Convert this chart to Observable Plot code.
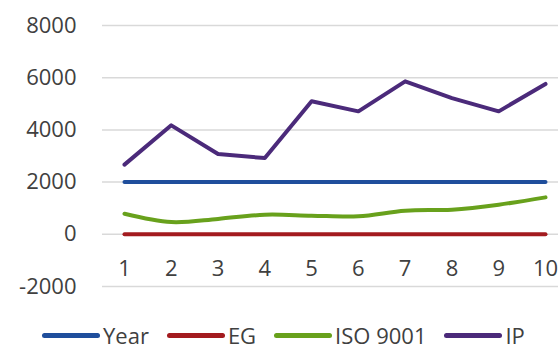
<!DOCTYPE html>
<html>
<head>
<meta charset="utf-8">
<script src="https://cdn.jsdelivr.net/npm/d3@7"></script>
<script src="https://cdn.jsdelivr.net/npm/@observablehq/plot@0.6"></script>
<style>
  html, body { margin: 0; padding: 0; background: #fff; overflow: hidden; }
  #wrap { position: relative; width: 558px; height: 353px; font-family: "Open Sans", sans-serif; }
  #legend { position: absolute; left: 42px; top: 320px; display: flex; align-items: center; gap: 18px; font-size: 22px; color: #404040; line-height: 30px; white-space: nowrap; }
  .item { display: flex; align-items: center; gap: 3px; }
  .sw { width: 58px; height: 5px; border-radius: 3px; display: inline-block; }
</style>
</head>
<body>
<div id="wrap"><div id="chart"></div><div id="legend"></div></div>
<script>
const periods = [1, 2, 3, 4, 5, 6, 7, 8, 9, 10];
const seriesNames = ["Year", "EG", "ISO 9001", "IP"];
const seriesColors = ["#1f4e9c", "#a31b1f", "#68a11c", "#4b2a7a"];
const yearValues = [2000, 2000, 2000, 2000, 2000, 2000, 2000, 2000, 2000, 2000];
const egValues = [0, 0, 0, 0, 0, 0, 0, 0, 0, 0];
const isoValues = [790, 470, 590, 750, 715, 690, 905, 945, 1135, 1415];
const ipValues = [2670, 4175, 3075, 2920, 5095, 4710, 5860, 5220, 4710, 5760];
const yTicks = [-2000, 0, 2000, 4000, 6000, 8000];

const valueSets = [yearValues, egValues, isoValues, ipValues];
const rows = [];
seriesNames.forEach((s, i) => periods.forEach((p, j) => rows.push({series: s, period: p, value: valueSets[i][j]})));

const chart = Plot.plot({
  width: 558,
  height: 300,
  marginLeft: 102,
  marginRight: 0,
  marginTop: 25,
  marginBottom: 14,
  style: {fontFamily: "Open Sans, sans-serif", fontSize: "22px", color: "#404040", background: "#fff"},
  x: {domain: [0.5, 10.5], range: [100.6, 568.4], axis: null},
  y: {domain: [-2000, 8000], axis: null},
  color: {domain: seriesNames, range: seriesColors},
  marks: [
    Plot.ruleY(yTicks, {stroke: "#d9d9d9", strokeWidth: 1.5}),
    Plot.axisY({ticks: yTicks, tickSize: 0, tickPadding: 26, anchor: "left", label: null, fontSize: 22, fill: "#404040", tickFormat: d => String(d).replace("−", "-")}),
    Plot.text(periods, {x: d => d, y: 0, dy: 35, text: d => String(d), fontSize: 22, fill: "#404040"}),
    Plot.line(rows.filter(d => d.series !== "ISO 9001"), {x: "period", y: "value", z: "series", stroke: "series", strokeWidth: 4, strokeLinecap: "round", strokeLinejoin: "round"}),
    Plot.line(rows.filter(d => d.series === "ISO 9001"), {x: "period", y: "value", stroke: "series", strokeWidth: 4, strokeLinecap: "round", strokeLinejoin: "round", curve: "catmull-rom"})
  ]
});
document.getElementById("chart").appendChild(chart);

const legend = document.getElementById("legend");
seriesNames.forEach((s, i) => {
  const it = document.createElement("div");
  it.className = "item";
  const sw = document.createElement("span");
  sw.className = "sw";
  sw.style.background = seriesColors[i];
  const tx = document.createElement("span");
  tx.textContent = s;
  it.appendChild(sw);
  it.appendChild(tx);
  legend.appendChild(it);
});
</script>
</body>
</html>
